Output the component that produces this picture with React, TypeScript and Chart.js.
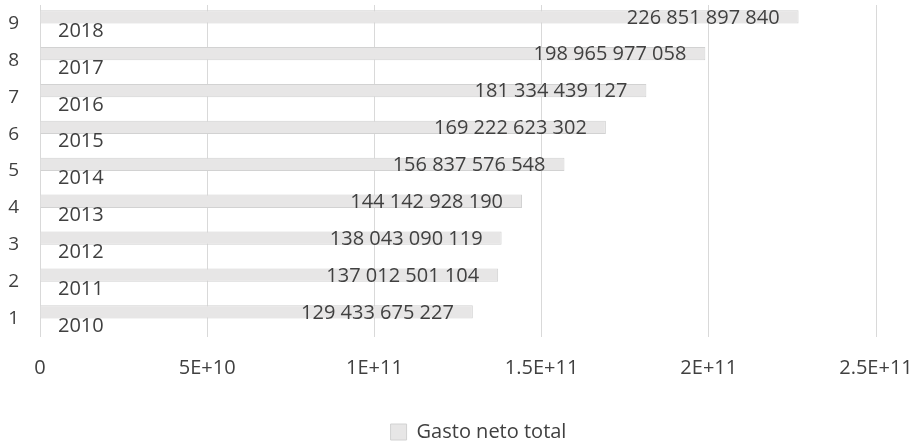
import React, { useEffect, useRef } from "react";
import { Chart, registerables } from "chart.js";

Chart.register(...registerables);

const categories: string[] = ["1", "2", "3", "4", "5", "6", "7", "8", "9"];
const years: number[] = [2010, 2011, 2012, 2013, 2014, 2015, 2016, 2017, 2018];
const gastoNetoTotal: number[] = [
  129433675227, 137012501104, 138043090119, 144142928190, 156837576548,
  169222623302, 181334439127, 198965977058, 226851897840,
];
const xMax = 2.5e11;
const xStep = 5e10;
const seriesName = "Gasto neto total";

const FONT = "'Open Sans', 'Noto Sans', sans-serif";
const TEXT = "#404040";

const fmtThousands = (v: number) =>
  Math.round(v).toString().replace(/\B(?=(\d{3})+(?!\d))/g, " ");

const fmtSci = (v: number) => {
  if (v === 0) return "0";
  const e = Math.floor(Math.log10(v));
  const m = v / Math.pow(10, e);
  return `${parseFloat(m.toFixed(3))}E+${e}`;
};

const labelPlugin = {
  id: "barLabels",
  afterLayout(chart: any) {
    // centre the legend on the region right of the category axis
    if (chart.legend) chart.legend.left = chart.chartArea.left;
  },
  afterDatasetsDraw(chart: any) {
    const ctx = chart.ctx;
    ctx.save();
    ctx.fillStyle = TEXT;
    ctx.font = `20px ${FONT}`;
    ctx.textBaseline = "middle";
    const m0 = chart.getDatasetMeta(0);
    m0.data.forEach((bar: any, i: number) => {
      ctx.textAlign = "right";
      ctx.fillText(fmtThousands(gastoNetoTotal[i]), bar.x - 19, bar.y + 1);
    });
    const m1 = chart.getDatasetMeta(1);
    m1.data.forEach((bar: any, i: number) => {
      ctx.textAlign = "left";
      ctx.fillText(String(years[i]), bar.x + 18, bar.y + 1);
    });
    ctx.restore();
  },
};

export default function App() {
  const ref = useRef<HTMLCanvasElement | null>(null);
  useEffect(() => {
    if (!ref.current) return;
    const chart = new Chart(ref.current, {
      type: "bar",
      data: {
        labels: categories,
        datasets: [
          {
            label: seriesName,
            data: gastoNetoTotal,
            backgroundColor: "#e7e6e6",
            borderColor: "#d2d2d2",
            borderWidth: 1,
            barPercentage: 1,
            categoryPercentage: 0.72,
          },
          {
            label: "Año",
            data: years,
            backgroundColor: "rgba(0,0,0,0)",
            borderWidth: 0,
            barPercentage: 1,
            categoryPercentage: 0.72,
          },
        ],
      },
      options: {
        indexAxis: "y",
        responsive: false,
        animation: false,
        layout: { padding: { left: 0, right: 0, top: 5, bottom: 0 } },
        plugins: {
          tooltip: { enabled: false },
          legend: {
            position: "bottom",
            maxHeight: 24,
            labels: {
              filter: (item: any) => item.datasetIndex === 0,
              boxWidth: 16,
              boxHeight: 16,
              padding: 2,
              color: TEXT,
              font: { family: FONT, size: 20 },
            },
          },
        },
        scales: {
          x: {
            min: 0,
            max: xMax,
            grid: { color: "#d9d9d9", lineWidth: 1, drawTicks: false },
            border: { display: false },
            ticks: {
              stepSize: xStep,
              padding: 19,
              color: TEXT,
              font: { family: FONT, size: 20 },
              callback: (v: any) => fmtSci(Number(v)),
            },
            afterFit: (s: any) => {
              s.height = 83;
              s.paddingLeft = 0;
              s.paddingRight = 41;
            },
          },
          y: {
            reverse: true,
            grid: { display: false, drawTicks: false },
            border: { display: false },
            ticks: {
              padding: 21,
              color: TEXT,
              font: { family: FONT, size: 19 },
            },
            afterFit: (s: any) => {
              s.width = 40;
              s.paddingTop = 0;
              s.paddingBottom = 0;
            },
          },
        },
      },
      plugins: [labelPlugin],
    });
    return () => chart.destroy();
  }, []);
  return (
    <div style={{ position: "absolute", left: 0, top: 0, width: 917, height: 444 }}>
      <canvas ref={ref} width={917} height={444} />
    </div>
  );
}
